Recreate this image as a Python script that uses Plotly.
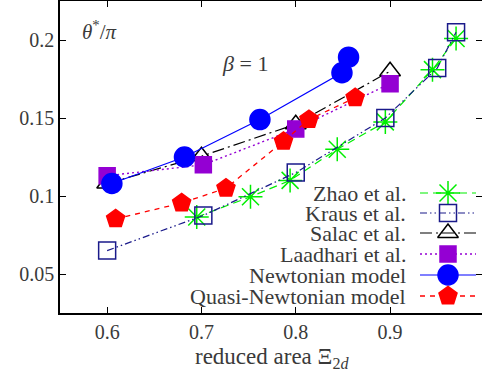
import plotly.graph_objects as go

# ---- data ----
zhao_x = [0.695, 0.752, 0.794, 0.844, 0.895, 0.945, 0.970]
zhao_y = [0.0865, 0.0995, 0.110, 0.130, 0.1475, 0.181, 0.201]

kraus_x = [0.600, 0.702, 0.800, 0.895, 0.950, 0.970]
kraus_y = [0.065, 0.0875, 0.1150, 0.150, 0.182, 0.205]

salac_x = [0.600, 0.700, 0.800, 0.900]
salac_y = [0.108, 0.1255, 0.146, 0.180]

laadhari_x = [0.600, 0.702, 0.800, 0.900]
laadhari_y = [0.113, 0.120, 0.143, 0.172]

newton_x = [0.605, 0.682, 0.762, 0.849, 0.856]
newton_y = [0.108, 0.125, 0.149, 0.179, 0.189]

quasi_x = [0.609, 0.679, 0.726, 0.787, 0.814, 0.863]
quasi_y = [0.0853, 0.0955, 0.1050, 0.135, 0.149, 0.163]

x_ticks = [0.6, 0.7, 0.8, 0.9, 1.0]
y_ticks = [0.05, 0.1, 0.15, 0.2]
x_tick_text = ["0.6", "0.7", "0.8", "0.9", "1"]
y_tick_text = ["0.05", "0.1", "0.15", "0.2"]

names = ["Zhao et al.", "Kraus et al.", "Salac et al.", "Laadhari et al.",
         "Newtonian model", "Quasi-Newtonian model"]

# ---- styles ----
TXT = "#3a3a3a"
FONT = "Liberation Serif"
styles = [
    dict(color="#00ee00", dash="8px,5px", symbol="asterisk-open", size=20, lw=1.2),
    dict(color="#1a1a8a", dash="7px,3px,1.5px,3px,1.5px,3px", symbol="square-open", size=17, lw=1.2),
    dict(color="#000000", dash="12px,4px,2px,4px", symbol="triangle-up-open", size=18, lw=1.2),
    dict(color="#9400d3", dash="2px,3px", symbol="square", size=16, lw=1.4),
    dict(color="#0000ff", dash="solid", symbol="circle", size=20, lw=1.2),
    dict(color="#ff0000", dash="5px,5px", symbol="pentagon", size=19, lw=1.3),
]
series = [(zhao_x, zhao_y), (kraus_x, kraus_y), (salac_x, salac_y),
          (laadhari_x, laadhari_y), (newton_x, newton_y), (quasi_x, quasi_y)]

W, H = 482, 375
L, R, T, B = 60, 482, 1, 313   # plot area in pixels


def px(x):
    return (x - L) / (R - L)


def py(y):
    return (B - y) / (B - T)


fig = go.Figure()
for (xs, ys), st, nm in zip(series, styles, names):
    fig.add_trace(go.Scatter(
        x=xs, y=ys, mode="lines+markers", name=nm, showlegend=False,
        line=dict(color=st["color"], dash=st["dash"], width=st["lw"]),
        marker=dict(symbol=st["symbol"], size=st["size"], color=st["color"],
                    line=dict(color=st["color"], width=1.5)),
        xaxis="x", yaxis="y"))

# ---- hand-drawn legend (text right-aligned, sample to its right) ----
leg_rows = [193, 213, 233, 254, 275, 296]
for (st, nm, ry) in zip(styles, names, leg_rows):
    fig.add_trace(go.Scatter(
        x=[420, 448, 476], y=[ry, ry, ry], mode="lines",
        line=dict(color=st["color"], dash=st["dash"], width=st["lw"]),
        showlegend=False, hoverinfo="skip", xaxis="x3", yaxis="y3"))
    fig.add_trace(go.Scatter(
        x=[448], y=[ry], mode="markers",
        marker=dict(symbol=st["symbol"], size=st["size"], color=st["color"],
                    line=dict(color=st["color"], width=1.5)),
        showlegend=False, hoverinfo="skip", xaxis="x3", yaxis="y3"))
    fig.add_annotation(x=px(408), y=py(ry), xref="paper", yref="paper",
                       text=nm, showarrow=False, xanchor="right", yanchor="middle",
                       font=dict(family=FONT, size=22, color=TXT))

fig.add_annotation(x=px(80), y=py(30), xref="paper", yref="paper",
                   text="<i>θ</i><sup>*</sup>/<i>π</i>", showarrow=False,
                   xanchor="left", yanchor="middle",
                   font=dict(family=FONT, size=21, color=TXT))
fig.add_annotation(x=px(220), y=py(64), xref="paper", yref="paper",
                   text="<i>β</i> = 1", showarrow=False,
                   xanchor="left", yanchor="middle",
                   font=dict(family=FONT, size=22, color=TXT))
# x-axis title
fig.add_annotation(x=px(272), y=py(358), xref="paper", yref="paper",
                   text="reduced area Ξ<sub>2<i>d</i></sub>", showarrow=False,
                   xanchor="center", yanchor="middle",
                   font=dict(family=FONT, size=23, color=TXT))
# the "1" tick label sits just past the right edge in the reference
fig.add_annotation(x=px(486), y=py(333), xref="paper", yref="paper",
                   text=x_tick_text[-1], showarrow=False,
                   xanchor="center", yanchor="middle",
                   font=dict(family=FONT, size=20, color=TXT))

axis_common = dict(ticks="inside", ticklen=6, tickwidth=1, tickcolor="#000",
                   showgrid=False, zeroline=False,
                   tickfont=dict(family=FONT, size=20, color=TXT))

fig.update_layout(
    width=W, height=H,
    margin=dict(l=L, r=W - R, t=T, b=H - B),
    paper_bgcolor="white", plot_bgcolor="white",
    showlegend=False,
    xaxis=dict(range=[0.55, 0.9975], tickvals=x_ticks, ticktext=x_tick_text,
               showline=True, linecolor="#000", linewidth=1.5, mirror="ticks",
               ticklabelstandoff=0, **axis_common),
    yaxis=dict(range=[0.025, 0.225], tickvals=y_ticks, ticktext=y_tick_text,
               showline=True, linecolor="#000", linewidth=1.5, **axis_common),
    yaxis2=dict(range=[0.025, 0.225], tickvals=y_ticks, overlaying="y", side="right",
                showticklabels=False, showline=False, ticks="inside", ticklen=6,
                tickcolor="#000", showgrid=False, zeroline=False, anchor="x"),
    xaxis3=dict(range=[L, R], overlaying="x", visible=False, anchor="y3"),
    yaxis3=dict(range=[B, T], overlaying="y", visible=False, anchor="x3"),
)
# dummy trace so the right-hand tick axis renders
fig.add_trace(go.Scatter(x=[None], y=[None], xaxis="x", yaxis="y2",
                         showlegend=False, hoverinfo="skip"))

fig.write_html("out.html", config={"displayModeBar": False},
               post_script="document.body.style.margin='0';")
